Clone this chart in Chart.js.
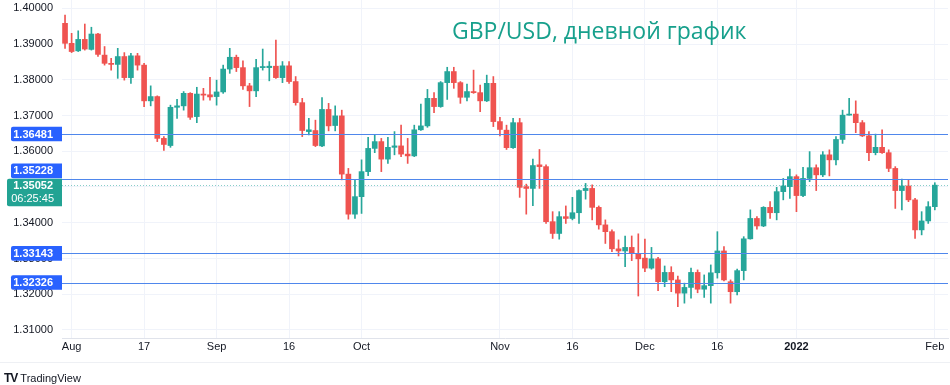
<!DOCTYPE html>
<html><head><meta charset="utf-8">
<script src="https://cdn.jsdelivr.net/npm/chart.js@4.4.1/dist/chart.umd.min.js"></script>
<style>
html,body{margin:0;padding:0;background:#fff;}
#wrap{position:relative;width:950px;height:385px;overflow:hidden;background:#fff;}
#c{position:absolute;left:0;top:0;}
#title{position:absolute;left:452px;top:19px;font-family:"Open Sans";font-size:23px;line-height:23px;color:#17a08c;white-space:nowrap;}
#logo{position:absolute;left:4px;top:371px;font-family:"Liberation Sans",Arial,sans-serif;font-size:11px;color:#131722;white-space:nowrap;}
#logo b{font-size:12px;letter-spacing:-1px;margin-right:3px;}
#sep{position:absolute;left:0;top:362px;width:950px;height:1px;background:#eef0f4;}
</style></head><body>
<div id="wrap">
<canvas id="c" width="950" height="385"></canvas>
<div id="title">GBP/USD, дневной график</div>
<div id="sep"></div>
<div id="logo"><b>TV</b>TradingView</div>
</div>
<script>
// ---- data ----
const dates = ['Jul 30',
'Aug 2','Aug 3','Aug 4','Aug 5','Aug 6','Aug 9','Aug 10','Aug 11','Aug 12','Aug 13','Aug 16','Aug 17','Aug 18','Aug 19','Aug 20','Aug 23','Aug 24','Aug 25','Aug 26','Aug 27','Aug 30','Aug 31',
'Sep 1','Sep 2','Sep 3','Sep 6','Sep 7','Sep 8','Sep 9','Sep 10','Sep 13','Sep 14','Sep 15','Sep 16','Sep 17','Sep 20','Sep 21','Sep 22','Sep 23','Sep 24','Sep 27','Sep 28','Sep 29','Sep 30',
'Oct 1','Oct 4','Oct 5','Oct 6','Oct 7','Oct 8','Oct 11','Oct 12','Oct 13','Oct 14','Oct 15','Oct 18','Oct 19','Oct 20','Oct 21','Oct 22','Oct 25','Oct 26','Oct 27','Oct 28','Oct 29',
'Nov 1','Nov 2','Nov 3','Nov 4','Nov 5','Nov 8','Nov 9','Nov 10','Nov 11','Nov 12','Nov 15','Nov 16','Nov 17','Nov 18','Nov 19','Nov 22','Nov 23','Nov 24','Nov 25','Nov 26','Nov 29','Nov 30',
'Dec 1','Dec 2','Dec 3','Dec 6','Dec 7','Dec 8','Dec 9','Dec 10','Dec 13','Dec 14','Dec 15','Dec 16','Dec 17','Dec 20','Dec 21','Dec 22','Dec 23','Dec 24','Dec 27','Dec 28','Dec 29','Dec 30','Dec 31',
'Jan 3','Jan 4','Jan 5','Jan 6','Jan 7','Jan 10','Jan 11','Jan 12','Jan 13','Jan 14','Jan 17','Jan 18','Jan 19','Jan 20','Jan 21','Jan 24','Jan 25','Jan 26','Jan 27','Jan 28','Jan 31',
'Feb 1'];

const open = [1.3958,1.3902,1.3881,1.3913,1.3885,1.3928,1.3869,1.3846,1.3843,1.3865,1.3806,1.3867,1.3841,1.3741,1.3753,1.3636,1.3616,1.3723,1.3727,1.3762,1.3697,1.3760,1.3758,1.3753,1.3766,1.3830,1.3863,1.3834,1.3783,1.3769,1.3834,1.3834,1.3838,1.3806,1.3839,1.3795,1.3736,1.3655,1.3658,1.3615,1.3717,1.3672,1.3699,1.3536,1.3424,1.3473,1.3543,1.3608,1.3627,1.3578,1.3611,1.3615,1.3592,1.3587,1.3660,1.3671,1.3748,1.3725,1.3792,1.3823,1.3792,1.3751,1.3767,1.3764,1.3741,1.3790,1.3683,1.3659,1.3610,1.3680,1.3501,1.3496,1.3562,1.3557,1.3403,1.3370,1.3417,1.3412,1.3428,1.3490,1.3496,1.3443,1.3394,1.3375,1.3327,1.3321,1.3331,1.3314,1.3301,1.3273,1.3299,1.3235,1.3261,1.3240,1.3203,1.3219,1.3261,1.3214,1.3224,1.3260,1.3321,1.3235,1.3207,1.3266,1.3355,1.3412,1.3391,1.3443,1.3428,1.3487,1.3501,1.3529,1.3476,1.3524,1.3554,1.3534,1.3590,1.3576,1.3633,1.3701,1.3704,1.3680,1.3643,1.3596,1.3611,1.3596,1.3552,1.3490,1.3503,1.3464,1.3380,1.3405,1.3445];
const high = [1.3981,1.3930,1.3937,1.3956,1.3947,1.3930,1.3893,1.3860,1.3888,1.3876,1.3874,1.3874,1.3846,1.3783,1.3755,1.3641,1.3729,1.3745,1.3767,1.3764,1.3779,1.3776,1.3807,1.3799,1.3841,1.3888,1.3869,1.3853,1.3790,1.3857,1.3886,1.3851,1.3911,1.3851,1.3851,1.3809,1.3748,1.3692,1.3687,1.3750,1.3734,1.3727,1.3715,1.3552,1.3520,1.3576,1.3639,1.3646,1.3636,1.3639,1.3655,1.3673,1.3636,1.3673,1.3732,1.3773,1.3764,1.3795,1.3835,1.3835,1.3795,1.3788,1.3827,1.3785,1.3813,1.3809,1.3695,1.3673,1.3692,1.3692,1.3508,1.3578,1.3605,1.3562,1.3431,1.3431,1.3447,1.3471,1.3492,1.3510,1.3506,1.3447,1.3408,1.3380,1.3352,1.3363,1.3363,1.3369,1.3354,1.3331,1.3303,1.3279,1.3277,1.3251,1.3231,1.3273,1.3268,1.3254,1.3282,1.3375,1.3333,1.3240,1.3270,1.3361,1.3436,1.3417,1.3445,1.3459,1.3499,1.3524,1.3550,1.3534,1.3555,1.3599,1.3562,1.3599,1.3604,1.3641,1.3715,1.3748,1.3741,1.3686,1.3655,1.3648,1.3660,1.3604,1.3557,1.3522,1.3520,1.3468,1.3431,1.3459,1.3512];
const low = [1.3888,1.3876,1.3879,1.3883,1.3883,1.3865,1.3841,1.3827,1.3804,1.3799,1.3790,1.3827,1.3725,1.3727,1.3627,1.3602,1.3611,1.3692,1.3715,1.3689,1.3680,1.3743,1.3743,1.3729,1.3762,1.3818,1.3823,1.3773,1.3725,1.3753,1.3827,1.3797,1.3804,1.3792,1.3790,1.3729,1.3641,1.3646,1.3613,1.3613,1.3657,1.3657,1.3520,1.3410,1.3412,1.3426,1.3532,1.3596,1.3543,1.3566,1.3590,1.3585,1.3566,1.3585,1.3658,1.3667,1.3708,1.3723,1.3745,1.3776,1.3734,1.3741,1.3762,1.3711,1.3739,1.3669,1.3643,1.3605,1.3608,1.3471,1.3424,1.3448,1.3496,1.3398,1.3356,1.3354,1.3398,1.3408,1.3398,1.3466,1.3408,1.3382,1.3342,1.3319,1.3307,1.3277,1.3294,1.3195,1.3263,1.3270,1.3210,1.3221,1.3207,1.3165,1.3175,1.3189,1.3204,1.3191,1.3175,1.3245,1.3237,1.3175,1.3198,1.3240,1.3354,1.3382,1.3389,1.3412,1.3408,1.3464,1.3468,1.3431,1.3473,1.3515,1.3490,1.3529,1.3531,1.3562,1.3622,1.3701,1.3652,1.3641,1.3574,1.3590,1.3594,1.3543,1.3440,1.3436,1.3459,1.3356,1.3366,1.3398,1.3436];
const close = [1.3902,1.3879,1.3913,1.3886,1.3928,1.3871,1.3846,1.3843,1.3865,1.3806,1.3867,1.3841,1.3741,1.3753,1.3636,1.3619,1.3723,1.3727,1.3762,1.3695,1.3760,1.3757,1.3752,1.3766,1.3830,1.3863,1.3834,1.3783,1.3769,1.3834,1.3837,1.3838,1.3806,1.3839,1.3795,1.3736,1.3658,1.3660,1.3616,1.3717,1.3671,1.3699,1.3536,1.3424,1.3473,1.3543,1.3608,1.3627,1.3578,1.3611,1.3615,1.3592,1.3587,1.3660,1.3671,1.3748,1.3725,1.3792,1.3823,1.3792,1.3751,1.3767,1.3764,1.3741,1.3790,1.3683,1.3661,1.3610,1.3680,1.3499,1.3496,1.3560,1.3557,1.3403,1.3370,1.3417,1.3412,1.3428,1.3490,1.3496,1.3443,1.3394,1.3375,1.3327,1.3321,1.3331,1.3314,1.3299,1.3273,1.3299,1.3235,1.3261,1.3240,1.3203,1.3219,1.3261,1.3214,1.3224,1.3260,1.3321,1.3240,1.3207,1.3266,1.3355,1.3412,1.3391,1.3443,1.3428,1.3487,1.3503,1.3529,1.3476,1.3524,1.3554,1.3534,1.3590,1.3576,1.3633,1.3701,1.3704,1.3680,1.3643,1.3596,1.3611,1.3596,1.3552,1.3490,1.3503,1.3464,1.3380,1.3405,1.3445,1.35052];

const yTicks = [1.31,1.32,1.33,1.34,1.35,1.36,1.37,1.38,1.39,1.40];
const tickDates = ['Aug 2','Aug 17','Sep 1','Sep 16','Oct 1','Nov 1','Nov 16','Dec 1','Dec 16','Jan 3','Feb 1'];
const tickText  = ['Aug','17','Sep','16','Oct','Nov','16','Dec','16','2022','Feb'];
const levels = [1.36481,1.35228,1.33143,1.32326];
const lastPrice = 1.35052;
const countdown = '06:25:45';

// ---- styling ----
const UP = '#26a69a', DOWN = '#ef5350';
const LEVEL_LINE = '#4f87ec', LEVEL_BOX = '#2962ff';
const FONT = '"Liberation Sans", Arial, sans-serif';
const col = i => close[i] >= open[i] ? UP : DOWN;

function roundBox(ctx, x, y, w, h, r, color){
  ctx.beginPath();
  ctx.moveTo(x + r, y);
  ctx.lineTo(x + w, y);
  ctx.lineTo(x + w, y + h);
  ctx.lineTo(x + r, y + h);
  ctx.quadraticCurveTo(x, y + h, x, y + h - r);
  ctx.lineTo(x, y + r);
  ctx.quadraticCurveTo(x, y, x + r, y);
  ctx.closePath();
  ctx.fillStyle = color;
  ctx.fill();
}

const overlay = {
  id: 'overlay',
  afterDatasetsDraw(chart){
    const {ctx, chartArea: ca, scales: {y}} = chart;
    ctx.save();
    const py = Math.round(y.getPixelForValue(lastPrice)) + 0.5;
    ctx.strokeStyle = 'rgba(38,166,154,0.55)';
    ctx.lineWidth = 1;
    ctx.setLineDash([1, 2]);
    ctx.beginPath(); ctx.moveTo(ca.left, py); ctx.lineTo(ca.right, py); ctx.stroke();
    ctx.setLineDash([]);
    ctx.strokeStyle = LEVEL_LINE;
    levels.forEach(v => {
      const ly = Math.round(y.getPixelForValue(v)) + 0.5;
      ctx.beginPath(); ctx.moveTo(ca.left, ly); ctx.lineTo(ca.right, ly); ctx.stroke();
    });
    ctx.restore();
  },
  afterDraw(chart){
    const {ctx, scales: {y}} = chart;
    ctx.save();
    const py = y.getPixelForValue(lastPrice);
    const curTop = py - 6.5, curH = 27.5;
    levels.forEach(v => {
      const cy = y.getPixelForValue(v);
      let top = cy - 7.3; const h = 14.6;
      if (top + h > curTop && top < curTop + curH) top = curTop - h - 0.5;
      roundBox(ctx, 11, top, 51, h, 2, LEVEL_BOX);
      ctx.fillStyle = '#fff';
      ctx.font = 'bold 11px ' + FONT;
      ctx.textAlign = 'right'; ctx.textBaseline = 'middle';
      ctx.fillText(v.toFixed(5), 53, top + h / 2 + 0.5);
    });
    roundBox(ctx, 7, curTop, 55, curH, 2, '#22a393');
    ctx.fillStyle = '#fff';
    ctx.textAlign = 'right'; ctx.textBaseline = 'middle';
    ctx.font = 'bold 11px ' + FONT;
    ctx.fillText(lastPrice.toFixed(5), 53, py + 1);
    ctx.font = '11px ' + FONT;
    ctx.fillText(countdown, 54, py + 13.5);
    ctx.restore();
  }
};

const janIdx = dates.indexOf('Jan 3');

new Chart(document.getElementById('c'), {
  type: 'bar',
  data: {
    datasets: [
      { label: 'body', data: open.map((o, i) => ({x: i, y: [o, close[i]]})),
        backgroundColor: c => col(c.dataIndex), barThickness: 5, minBarLength: 1, grouped: false, order: 0 },
      { label: 'wick', data: low.map((l, i) => ({x: i, y: [l, high[i]]})),
        backgroundColor: c => col(c.dataIndex), barThickness: 1, grouped: false, order: 1 }
    ]
  },
  options: {
    responsive: false,
    animation: false,
    devicePixelRatio: 1,
    layout: { padding: { left: 0, right: 2, top: 0, bottom: 0 } },
    plugins: { legend: { display: false }, tooltip: { enabled: false }, title: { display: false } },
    scales: {
      x: {
        type: 'linear', min: -0.46, max: 134, offset: false,
        afterBuildTicks: s => { s.ticks = tickDates.map(d => ({ value: dates.indexOf(d) })); },
        afterFit: s => { s.height = 47; s.paddingLeft = 0; s.paddingRight = 0; },
        ticks: {
          autoSkip: false, maxRotation: 0, padding: 2, color: '#131722',
          callback: (v, i) => tickText[i],
          font: c => ({ family: FONT, size: 11, weight: (c.tick && c.tick.value === janIdx) ? 'bold' : 'normal' })
        },
        grid: { color: '#f0f3fa', drawTicks: false, offset: false },
        border: { color: '#e0e3eb' }
      },
      y: {
        position: 'left', min: 1.30775, max: 1.40232,
        afterBuildTicks: s => { s.ticks = yTicks.map(v => ({ value: v })); },
        afterFit: s => { s.width = 62; s.paddingTop = 0; s.paddingBottom = 0; },
        ticks: { color: '#131722', padding: 9, font: { family: FONT, size: 11 }, callback: v => Number(v).toFixed(5) },
        grid: { color: '#f0f3fa', drawTicks: false },
        border: { display: false }
      }
    }
  },
  plugins: [overlay]
});
</script>
</body></html>
